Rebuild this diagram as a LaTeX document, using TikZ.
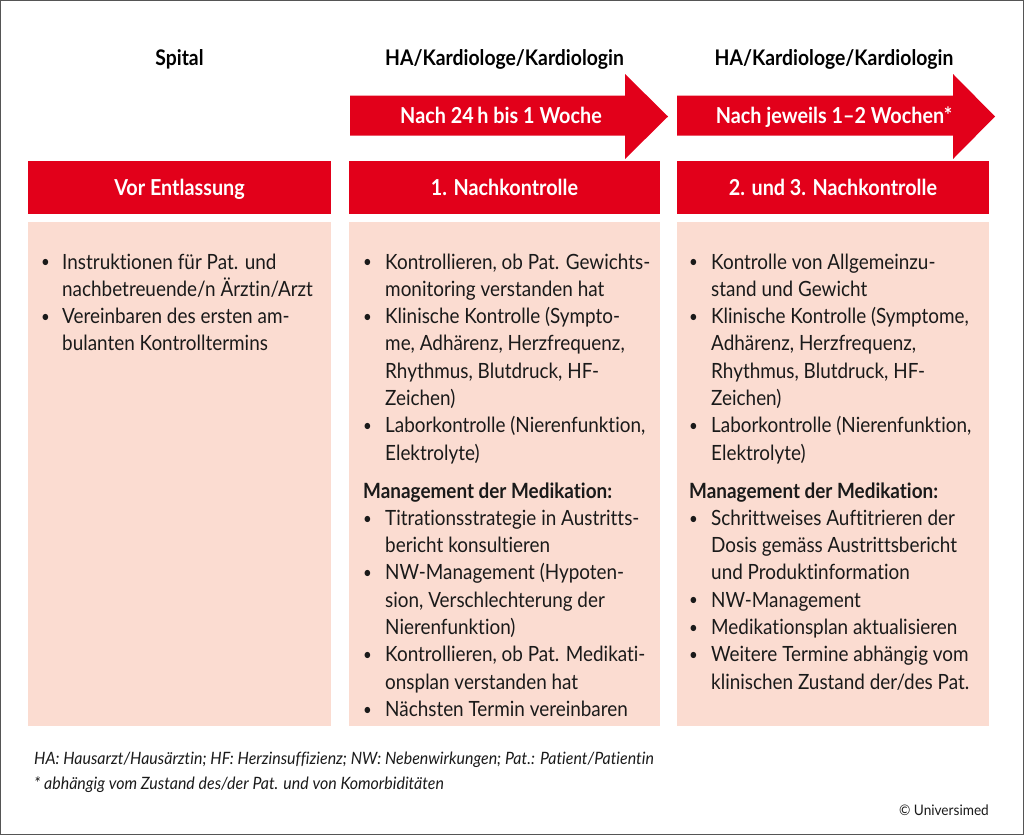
\documentclass[tikz,border=0pt]{standalone}
\usepackage{fontspec}
\setmainfont{Lato}[FakeStretch=0.9, Ligatures=NoCommon]
\newfontfamily\footfont{Lato}[FakeStretch=0.94, Ligatures=NoCommon]
\usepackage{array}
\definecolor{hred}{HTML}{E2001A}
\definecolor{hpink}{HTML}{FBDCD1}
\definecolor{framec}{HTML}{555555}
\definecolor{txt}{HTML}{1A1A1A}
\newcommand{\bodyfont}{\fontsize{21}{27.3}\selectfont}
\newcommand{\bl}{\raisebox{0.12ex}{\scalebox{0.8}{\textbullet}}}
\begin{document}
\begin{tikzpicture}[x=1pt,y=-1pt,
  title/.style={font=\fontsize{21.5}{24}\selectfont\bfseries, text=black, anchor=base, inner sep=0},
  hdr/.style={fill=hred, draw=none, anchor=north west, minimum height=53, inner sep=0},
  hdrtext/.style={font=\fontsize{22}{24}\selectfont\bfseries, text=white, anchor=base, inner sep=0},
  body/.style={fill=hpink, draw=none, anchor=north west, minimum height=504, inner sep=0},
  bodytext/.style={font=\bodyfont, text=txt, anchor=base west, inner sep=0, align=left},
  arrowshape/.style={fill=hred, draw=none},
  foot/.style={font=\footfont\fontsize{17}{20}\selectfont\itshape, text=txt, anchor=base west, inner sep=0},
]
\useasboundingbox (0,0) rectangle (1024,835);
\draw[framec, line width=1.2] (0.6,0.6) rectangle (1023.4,834.4);

% column titles
\node[title] (t1) at (179.5,65) {Spital};
\node[title] (t2) at (504.5,65) {HA/Kardiologe/Kardiologin};
\node[title] (t3) at (834,65) {HA/Kardiologe/Kardiologin};

% arrows
\fill[arrowshape] (350,95.5) -- (625,95.5) -- (625,74) -- (668,116.5) -- (625,159) -- (625,135.5) -- (350,135.5) -- cycle;
\fill[arrowshape] (677,95.5) -- (953,95.5) -- (953,74) -- (995,116.5) -- (953,159) -- (953,135.5) -- (677,135.5) -- cycle;
\node[hdrtext] (a2) at (501,123) {Nach 24\,h bis 1 Woche};
\node[hdrtext] (a3) at (834,123) {Nach jeweils 1–2 Wochen*};

% header boxes
\node[hdr, minimum width=303] (h1) at (28,161) {};
\node[hdr, minimum width=311] (h2) at (349,161) {};
\node[hdr, minimum width=312] (h3) at (677,161) {};
\node[hdrtext] (h1t) at (179.5,195) {Vor Entlassung};
\node[hdrtext] (h2t) at (504.5,195) {1. Nachkontrolle};
\node[hdrtext] (h3t) at (833,195) {2. und 3. Nachkontrolle};

% body boxes
\node[body, minimum width=303] (b1) at (28,222) {};
\node[body, minimum width=311] (b2) at (349,222) {};
\node[body, minimum width=312] (b3) at (677,222) {};

\node[bodytext] (b1t) at (41,269) {\begin{tabular}[t]{@{}p{21pt}@{}l@{}}
\bl & Instruktionen für Pat. und\\
    & nachbetreuende/n Ärztin/Arzt\\
\bl & Vereinbaren des ersten am-\\
    & bulanten Kontrolltermins
\end{tabular}};

\node[bodytext] (b2t) at (363,269) {\begin{tabular}[t]{@{}p{22pt}@{}l@{}}
\bl & Kontrollieren, ob Pat. Gewichts-\\
    & monitoring verstanden hat\\
\bl & Klinische Kontrolle (Sympto-\\
    & me, Adhärenz, Herzfrequenz,\\
    & Rhythmus, Blutdruck, HF-\\
    & Zeichen)\\
\bl & Laborkontrolle (Nierenfunktion,\\
    & Elektrolyte)\\[10.6pt]
\multicolumn{2}{@{}l@{}}{\bfseries Management der Medikation:}\\
\bl & Titrationsstrategie in Austritts-\\
    & bericht konsultieren\\
\bl & NW-Management (Hypoten-\\
    & sion, Verschlechterung der\\
    & Nierenfunktion)\\
\bl & Kontrollieren, ob Pat. Medikati-\\
    & onsplan verstanden hat\\
\bl & Nächsten Termin vereinbaren
\end{tabular}};

\node[bodytext] (b3t) at (689,269) {\begin{tabular}[t]{@{}p{22pt}@{}l@{}}
\bl & Kontrolle von Allgemeinzu-\\
    & stand und Gewicht\\
\bl & Klinische Kontrolle (Symptome,\\
    & Adhärenz, Herzfrequenz,\\
    & Rhythmus, Blutdruck, HF-\\
    & Zeichen)\\
\bl & Laborkontrolle (Nierenfunktion,\\
    & Elektrolyte)\\[10.6pt]
\multicolumn{2}{@{}l@{}}{\bfseries Management der Medikation:}\\
\bl & Schrittweises Auftitrieren der\\
    & Dosis gemäss Austrittsbericht\\
    & und Produktinformation\\
\bl & NW-Management\\
\bl & Medikationsplan aktualisieren\\
\bl & Weitere Termine abhängig vom\\
    & klinischen Zustand der/des Pat.
\end{tabular}};

% footer
\node[foot] (f1) at (34,764) {HA: Hausarzt/Hausärztin; HF: Herzinsuffizienz; NW: Nebenwirkungen; Pat.: Patient/Patientin};
\node[foot] (f2) at (34,789) {* abhängig vom Zustand des/der Pat. und von Komorbiditäten};
\node[foot, font=\footfont\fontsize{14.5}{16}\selectfont, anchor=base east] (f3) at (989,815) {© Universimed};
\end{tikzpicture}
\end{document}
